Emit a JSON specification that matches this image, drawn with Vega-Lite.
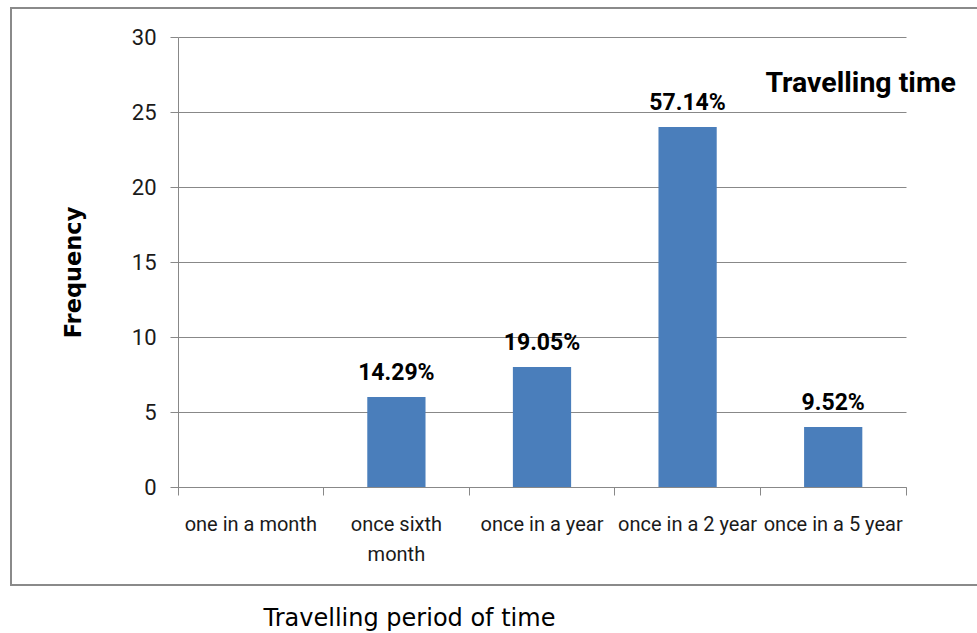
{
  "$schema": "https://vega.github.io/schema/vega-lite/v6.json",
  "width": 968,
  "height": 577,
  "autosize": "none",
  "padding": {"left": 11, "top": 8, "right": 0, "bottom": 48},
  "background": "white",
  "config": {"view": {"stroke": "#8a8a8a", "strokeWidth": 2}},
  "title": {
    "text": "Travelling time",
    "orient": "top",
    "anchor": "end",
    "frame": "group",
    "offset": 0,
    "baseline": "alphabetic",
    "dx": -23,
    "dy": 112,
    "font": "Roboto",
    "fontSize": 28.5,
    "fontWeight": "bold",
    "color": "#000000"
  },
  "data": {
    "values": [
      {"period": "one in a month", "frequency": 0, "pct": ""},
      {"period": "once sixth month", "frequency": 6, "pct": "14.29%"},
      {"period": "once in a year", "frequency": 8, "pct": "19.05%"},
      {"period": "once in a 2 year", "frequency": 24, "pct": "57.14%"},
      {"period": "once in a 5 year", "frequency": 4, "pct": "9.52%"}
    ]
  },
  "encoding": {
    "x": {
      "field": "period",
      "type": "nominal",
      "sort": null,
      "scale": {"type": "band", "range": [167, 895], "paddingInner": 0, "paddingOuter": 0},
      "axis": {
        "orient": "bottom",
        "offset": -98,
        "grid": false,
        "bandPosition": 1,
        "tickExtra": true,
        "tickSize": 8,
        "tickColor": "#888888",
        "domainColor": "#888888",
        "labelAngle": 0,
        "labelOverlap": false,
        "labelLimit": 300,
        "labelFont": "Roboto",
        "labelFontSize": 20,
        "labelColor": "#1a1a1a",
        "labelPadding": 19,
        "labelLineHeight": 30,
        "labelExpr": "datum.label == 'once sixth month' ? ['once sixth', 'month'] : datum.label",
        "title": "Travelling period of time",
        "titleFont": "DejaVu Sans",
        "titleFontSize": 24,
        "titleFontWeight": "normal",
        "titleColor": "#000000",
        "titleAlign": "center",
        "titleBaseline": "alphabetic",
        "titleX": 398,
        "titleY": 138
      }
    },
    "y": {
      "field": "frequency",
      "type": "quantitative",
      "scale": {"domain": [0, 30], "range": [479, 29], "nice": false, "zero": true},
      "axis": {
        "orient": "left",
        "offset": -167,
        "values": [0, 5, 10, 15, 20, 25, 30],
        "grid": true,
        "gridColor": "#888888",
        "gridWidth": 1,
        "tickSize": 8,
        "tickColor": "#888888",
        "domainColor": "#888888",
        "labelFont": "Roboto",
        "labelFontSize": 22,
        "labelColor": "#1a1a1a",
        "labelPadding": 14,
        "title": "Frequency",
        "titleFont": "DejaVu Sans",
        "titleFontSize": 22.5,
        "titleFontWeight": "bold",
        "titleColor": "#000000",
        "titleAngle": -90,
        "titleAlign": "center",
        "titleBaseline": "alphabetic",
        "titleX": -98,
        "titleY": 264
      }
    }
  },
  "layer": [
    {
      "mark": {"type": "bar", "color": "#4a7ebb", "width": {"band": 0.4}}
    },
    {
      "mark": {"type": "text", "font": "Roboto", "fontSize": 23, "fontWeight": "bold", "color": "#000000", "baseline": "alphabetic", "dy": -17},
      "encoding": {"text": {"field": "pct", "type": "nominal"}}
    }
  ]
}
